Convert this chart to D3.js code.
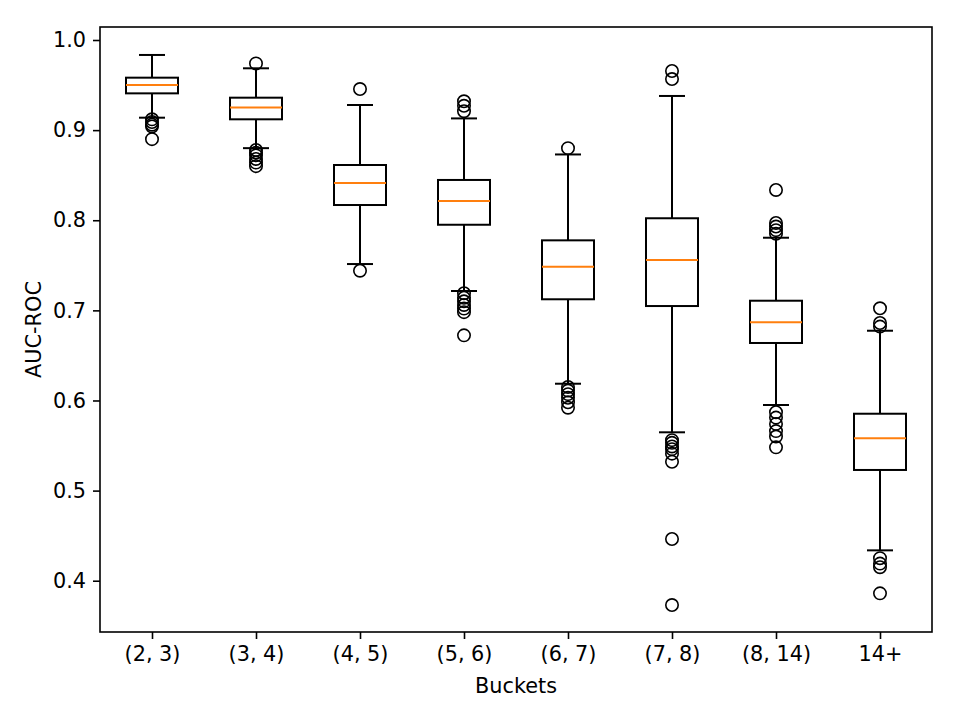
<!DOCTYPE html>
<html>
  <head>
    <meta charset="utf-8">
    <style>
    body {margin:0; background:white;}
    text {font-family: "DejaVu Sans", sans-serif; fill: black;}
    </style>
  </head>
  <body>
    <div id="chart"></div>
    <script src="https://d3js.org/d3.v7.min.js"></script>
    <script>

  // data

  var buckets = ["(2, 3)", "(3, 4)", "(4, 5)", "(5, 6)", "(6, 7)", "(7, 8)", "(8, 14)", "14+"];

  var whiskHi = [0.9834, 0.9686, 0.9279, 0.913, 0.873, 0.9379, 0.7806, 0.6774];
  var q3      = [0.9582, 0.936, 0.8613, 0.8447, 0.7777, 0.8022, 0.7107, 0.5853];
  var medians = [0.9501, 0.925, 0.8413, 0.8213, 0.7485, 0.7559, 0.6867, 0.558];
  var q1      = [0.9408, 0.912, 0.8169, 0.795, 0.7123, 0.7048, 0.6638, 0.5229];
  var whiskLo = [0.9138, 0.880, 0.7514, 0.7215, 0.6186, 0.5647, 0.595, 0.4337];

  var fliers = [
    [0.912, 0.909, 0.906, 0.904, 0.890],
    [0.974, 0.878, 0.875, 0.872, 0.868, 0.864, 0.860],
    [0.9456, 0.744],
    [0.932, 0.927, 0.921, 0.719, 0.714, 0.710, 0.706, 0.702, 0.698, 0.6723],
    [0.880, 0.615, 0.611, 0.607, 0.603, 0.598, 0.592],
    [0.9656, 0.9567, 0.556, 0.553, 0.549, 0.546, 0.541, 0.532, 0.4463, 0.373],
    [0.8336, 0.797, 0.793, 0.789, 0.785, 0.587, 0.581, 0.574, 0.566, 0.560, 0.548],
    [0.7023, 0.686, 0.682, 0.425, 0.419, 0.415, 0.386]
  ];

  var yTicks = [0.4, 0.5, 0.6, 0.7, 0.8, 0.9, 1.0];

  // layout

  var margin = { top: 27, left: 100, right: 28, bottom: 88 },
    width = 960 - margin.left - margin.right,
    height = 720 - margin.top - margin.bottom;

  var fontSize = "20.8px";

  var svg = d3.select("#chart")
    .append("svg")
    .attr("width", 960)
    .attr("height", 720)
    .append("g")
    .attr("transform", "translate(" + margin.left + "," + margin.top + ")");

  var xscale = d3.scaleLinear()
    .domain([0.5, buckets.length + 0.5])
    .range([0, width]);

  var yscale = d3.scaleLinear()
    .domain([0.3431, 1.01443])
    .range([height, 0]);

  var boxW = xscale(1.25) - xscale(1);   // half width of a box (0.5 wide)
  var capW = boxW / 2;

  var data = buckets.map(function(b, i) {
    return { name: b, pos: i + 1, lo: whiskLo[i], q1: q1[i], med: medians[i],
             q3: q3[i], hi: whiskHi[i], fliers: fliers[i] };
  });

  // axes

  var xaxis = d3.axisBottom(xscale)
    .tickValues(data.map(function(d) { return d.pos; }))
    .tickFormat(function(d) { return buckets[d - 1]; })
    .tickSize(7)
    .tickPadding(7);

  var yaxis = d3.axisLeft(yscale)
    .tickValues(yTicks)
    .tickFormat(d3.format(".1f"))
    .tickSize(7)
    .tickPadding(7);

  var gx = svg.append("g")
    .attr("transform", "translate(0," + height + ")")
    .call(xaxis);

  var gy = svg.append("g")
    .call(yaxis);

  [gx, gy].forEach(function(g) {
    g.select(".domain").remove();
    g.selectAll("line").attr("stroke", "black").attr("stroke-width", 1.6);
    g.selectAll("text").style("font-size", fontSize).attr("fill", "black");
  });

  // boxes

  var boxes = svg.append("g")
    .selectAll(".box")
    .data(data)
    .enter().append("g")
    .attr("class", "box");

  boxes.append("line")
    .attr("x1", function(d) { return xscale(d.pos); })
    .attr("x2", function(d) { return xscale(d.pos); })
    .attr("y1", function(d) { return yscale(d.q3); })
    .attr("y2", function(d) { return yscale(d.hi); });

  boxes.append("line")
    .attr("x1", function(d) { return xscale(d.pos); })
    .attr("x2", function(d) { return xscale(d.pos); })
    .attr("y1", function(d) { return yscale(d.q1); })
    .attr("y2", function(d) { return yscale(d.lo); });

  boxes.selectAll(".cap")
    .data(function(d) { return [{ pos: d.pos, v: d.hi }, { pos: d.pos, v: d.lo }]; })
    .enter().append("line")
    .attr("class", "cap")
    .attr("x1", function(d) { return xscale(d.pos) - capW; })
    .attr("x2", function(d) { return xscale(d.pos) + capW; })
    .attr("y1", function(d) { return yscale(d.v); })
    .attr("y2", function(d) { return yscale(d.v); });

  boxes.append("rect")
    .attr("x", function(d) { return xscale(d.pos) - boxW; })
    .attr("width", boxW * 2)
    .attr("y", function(d) { return yscale(d.q3); })
    .attr("height", function(d) { return yscale(d.q1) - yscale(d.q3); })
    .attr("fill", "none");

  boxes.selectAll("line, rect")
    .attr("stroke", "black")
    .attr("stroke-width", 2);

  boxes.append("line")
    .attr("x1", function(d) { return xscale(d.pos) - boxW; })
    .attr("x2", function(d) { return xscale(d.pos) + boxW; })
    .attr("y1", function(d) { return yscale(d.med); })
    .attr("y2", function(d) { return yscale(d.med); })
    .attr("stroke", "#ff7f0e")
    .attr("stroke-width", 2);

  boxes.selectAll(".flier")
    .data(function(d) { return d.fliers.map(function(v) { return { pos: d.pos, v: v }; }); })
    .enter().append("circle")
    .attr("class", "flier")
    .attr("cx", function(d) { return xscale(d.pos); })
    .attr("cy", function(d) { return yscale(d.v); })
    .attr("r", 6.2)
    .attr("fill", "none")
    .attr("stroke", "black")
    .attr("stroke-width", 1.6);

  // frame

  svg.append("rect")
    .attr("width", width)
    .attr("height", height)
    .attr("fill", "none")
    .attr("stroke", "black")
    .attr("stroke-width", 1.6);

  // axis titles

  svg.append("text")
    .attr("x", width / 2)
    .attr("y", height + 60.5)
    .attr("text-anchor", "middle")
    .style("font-size", fontSize)
    .text("Buckets");

  svg.append("text")
    .attr("transform", "translate(" + (-59.5) + "," + (height / 2) + ") rotate(-90)")
    .attr("text-anchor", "middle")
    .style("font-size", fontSize)
    .text("AUC-ROC");

    </script>
  </body>
</html>
